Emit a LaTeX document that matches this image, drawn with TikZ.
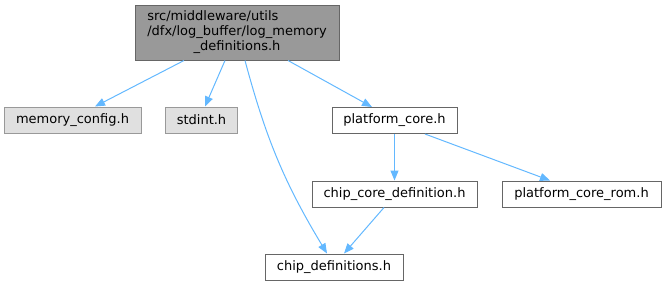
\documentclass[tikz,border=0pt]{standalone}
\usepackage{fontspec}
\setmainfont{DejaVu Sans}
\usetikzlibrary{arrows.meta}
\definecolor{edgeblue}{HTML}{63B8FF}
\definecolor{maingray}{HTML}{999999}
\definecolor{mainborder}{HTML}{666666}
\definecolor{lightgray}{HTML}{E0E0E0}
\definecolor{lightborder}{HTML}{999999}
\tikzset{
  box/.style={draw=mainborder, line width=1pt, fill=white, inner sep=0pt, minimum height=26pt, font=\fontsize{13}{15}\selectfont},
  mainbox/.style={box, fill=maingray, minimum height=55pt, minimum width=204pt},
  sysbox/.style={box, draw=lightborder, fill=lightgray},
  dep/.style={draw=edgeblue, line width=1pt, -{Triangle[length=10pt,width=8pt]}},
}
\begin{document}
\begin{tikzpicture}[x=1pt,y=-1pt]
\useasboundingbox (0,0) rectangle (666,285);
\node[mainbox] (main) at (237,32.5) {\fontsize{13}{15}\selectfont\begin{tabular}{@{}l@{}}src/middleware/utils\\/dfx/log\_buffer/log\_memory\\\multicolumn{1}{@{}c@{}}{\_definitions.h}\end{tabular}};
\node[sysbox, minimum width=137pt] (mem) at (72.5,120) {memory\_config.h};
\node[sysbox, minimum width=72pt] (std) at (201.5,120) {stdint.h};
\node[box, minimum width=125pt] (pc) at (394.5,120.5) {platform\_core.h};
\node[box, minimum width=165pt] (ccd) at (394.5,194) {chip\_core\_definition.h};
\node[box, minimum width=159pt] (rom) at (581.5,194) {platform\_core\_rom.h};
\node[box, minimum width=138pt] (cd) at (334,267) {chip\_definitions.h};
\draw[dep] ([xshift=-53pt]main.south) -- ([xshift=22.5pt]mem.north);
\draw[dep] ([xshift=-12pt]main.south) -- ([xshift=3.5pt]std.north);
\draw[dep] ([xshift=8pt]main.south) to[bend right=8] ([xshift=-7pt]cd.north);
\draw[dep] ([xshift=51pt]main.south) -- ([xshift=-22.5pt]pc.north);
\draw[dep] (pc.south) -- (ccd.north);
\draw[dep] ([xshift=30.5pt]pc.south) -- ([xshift=-31.5pt]rom.north);
\draw[dep] ([xshift=-10.5pt]ccd.south) -- ([xshift=10pt]cd.north);
\end{tikzpicture}
\end{document}
